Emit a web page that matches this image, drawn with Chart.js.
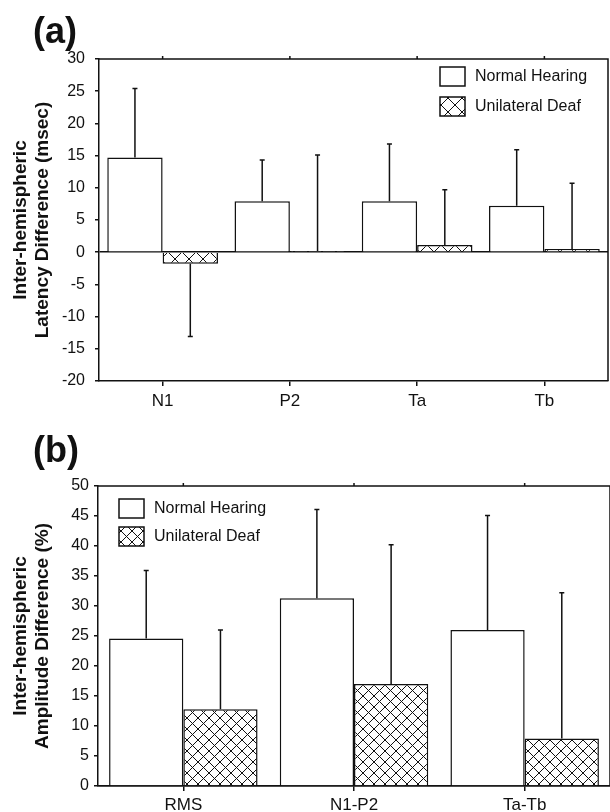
<!DOCTYPE html>
<html>
<head>
<meta charset="utf-8">
<script src="https://cdn.jsdelivr.net/npm/chart.js@4.4.1/dist/chart.umd.min.js"></script>
<style>
    body { margin: 0; background: #fff; width: 610px; height: 812px; position: relative; overflow: hidden; font-family: "Liberation Sans", Arial, sans-serif; }
    .panel { position: absolute; left: 0; width: 610px; }
    .tag { position: absolute; left: 33px; font-weight: bold; font-size: 36px; line-height: 1; color: #111; }
</style>
</head>
<body>
<div class="panel" style="top:0;height:410px"><canvas id="latencyChart"></canvas></div>
<div class="panel" style="top:410px;height:402px"><canvas id="amplitudeChart"></canvas></div>
<div class="tag" style="top:13px">(a)</div>
<div class="tag" style="top:432px">(b)</div>

<script>
// (a) latency difference, msec
const latencyLabels = ['N1', 'P2', 'Ta', 'Tb'];
const latencyNormal = [14.7, 7.9, 7.9, 7.2];
const latencyNormalSD = [10.7, 6.4, 8.9, 8.7];
const latencyDeaf = [-1.8, 0.2, 1.1, 0.5];
const latencyDeafSD = [11.3, 14.9, 8.6, 10.2];
const latencyTicks = [-20, -15, -10, -5, 0, 5, 10, 15, 20, 25, 30];

// (b) amplitude difference, %
const amplitudeLabels = ['RMS', 'N1-P2', 'Ta-Tb'];
const amplitudeNormal = [24.6, 31.3, 26.0];
const amplitudeNormalSD = [11.3, 14.8, 19.1];
const amplitudeDeaf = [12.8, 17.0, 7.9];
const amplitudeDeafSD = [13.2, 23.2, 24.3];
const amplitudeTicks = [0, 5, 10, 15, 20, 25, 30, 35, 40, 45, 50];

const FONT = '"Liberation Sans", Arial, Helvetica, sans-serif';
const INK = '#111';

function hatch(size) {
    const c = document.createElement('canvas');
    c.width = c.height = size;
    const g = c.getContext('2d');
    g.fillStyle = '#fff';
    g.fillRect(0, 0, size, size);
    g.strokeStyle = INK;
    g.lineWidth = 1;
    g.beginPath();
    g.moveTo(-1, -1); g.lineTo(size + 1, size + 1);
    g.moveTo(size + 1, -1); g.lineTo(-1, size + 1);
    g.stroke();
    return g.createPattern(c, 'repeat');
}

// one-sided error bars, pointing away from zero
const errorBars = {
    id: 'errorBars',
    afterDatasetsDraw(chart) {
        const ctx = chart.ctx;
        const y = chart.scales.y;
        chart.data.datasets.forEach((ds, i) => {
            chart.getDatasetMeta(i).data.forEach((bar, j) => {
                const v = ds.data[j];
                const end = y.getPixelForValue(v + (v < 0 ? -ds.sd[j] : ds.sd[j]));
                ctx.save();
                ctx.strokeStyle = INK;
                ctx.lineWidth = 1.5;
                ctx.beginPath();
                ctx.moveTo(bar.x, bar.y);
                ctx.lineTo(bar.x, end);
                ctx.moveTo(bar.x - 2.5, end);
                ctx.lineTo(bar.x + 2.5, end);
                ctx.stroke();
                ctx.restore();
            });
        });
    }
};

// top and right edges of the box, with small ticks on top
const frame = {
    id: 'frame',
    afterDraw(chart) {
        const { ctx, chartArea: a, scales: { x } } = chart;
        ctx.save();
        ctx.strokeStyle = INK;
        ctx.lineWidth = 1.5;
        ctx.beginPath();
        ctx.moveTo(a.left, a.top);
        ctx.lineTo(a.right, a.top);
        ctx.lineTo(a.right, a.bottom);
        x.ticks.forEach((t, i) => {
            const px = x.getPixelForTick(i);
            ctx.moveTo(px, a.top);
            ctx.lineTo(px, a.top - 3);
        });
        ctx.stroke();
        ctx.restore();
    }
};

// legend drawn inside the plot area
const boxLegend = {
    id: 'boxLegend',
    afterDraw(chart, args, opts) {
        const { ctx, chartArea: a } = chart;
        chart.data.datasets.forEach((ds, i) => {
            const bx = a.left + opts.x;
            const by = a.top + opts.y + i * opts.gap;
            ctx.save();
            ctx.fillStyle = ds.backgroundColor;
            ctx.fillRect(bx, by, 25, 19);
            ctx.strokeStyle = INK;
            ctx.lineWidth = 1.5;
            ctx.strokeRect(bx, by, 25, 19);
            ctx.fillStyle = INK;
            ctx.font = '16px ' + FONT;
            ctx.textBaseline = 'middle';
            ctx.fillText(ds.label, bx + 35, by + 10);
            ctx.restore();
        });
    }
};

function makeChart(id, p) {
    return new Chart(document.getElementById(id), {
        type: 'bar',
        data: {
            labels: p.labels,
            datasets: [
                { label: 'Normal Hearing', data: p.normal, sd: p.normalSD, backgroundColor: '#fff' },
                { label: 'Unilateral Deaf', data: p.deaf, sd: p.deafSD, backgroundColor: hatch(p.cell) }
            ]
        },
        plugins: [errorBars, frame, boxLegend],
        options: {
            responsive: true,
            maintainAspectRatio: false,
            animation: false,
            layout: { padding: { top: p.top, right: p.right, left: 0, bottom: 0 } },
            datasets: {
                bar: {
                    categoryPercentage: 0.87,
                    barPercentage: 1.0,
                    borderColor: INK,
                    borderWidth: 1.5
                }
            },
            plugins: {
                legend: { display: false },
                tooltip: { enabled: false },
                boxLegend: p.legend
            },
            scales: {
                x: {
                    offset: true,
                    afterFit(s) { s.height = p.xHeight; },
                    border: { color: INK, width: 1.5 },
                    grid: { offset: false, drawOnChartArea: false, tickLength: 5, tickColor: INK, lineWidth: 1.5 },
                    ticks: { color: INK, padding: p.xPad, font: { family: FONT, size: 17 } }
                },
                y: {
                    min: p.ticks[0],
                    max: p.ticks[p.ticks.length - 1],
                    afterFit(s) { s.width = p.yWidth; },
                    border: { color: INK, width: 1.5 },
                    grid: {
                        color: c => (c.tick && c.tick.value === 0 ? INK : 'rgba(0,0,0,0)'),
                        tickColor: INK,
                        tickLength: 4,
                        lineWidth: 1.5
                    },
                    ticks: {
                        stepSize: 2.5,
                        color: INK,
                        padding: p.yPad,
                        font: { family: FONT, size: 16 },
                        callback: v => (p.ticks.includes(v) ? v : '')
                    },
                    title: {
                        display: true,
                        text: p.title,
                        color: INK,
                        padding: { top: 10, bottom: 0 },
                        font: { family: FONT, size: 19, weight: 'bold', lineHeight: 1.15 }
                    }
                }
            }
        }
    });
}

makeChart('latencyChart', {
    labels: latencyLabels,
    normal: latencyNormal, normalSD: latencyNormalSD,
    deaf: latencyDeaf, deafSD: latencyDeafSD,
    ticks: latencyTicks,
    title: ['Inter-hemispheric', 'Latency Difference (msec)'],
    cell: 14, top: 59, right: 2, xHeight: 29, yWidth: 99, xPad: 5, yPad: 10,
    legend: { x: 341, y: 8, gap: 30 }
});

makeChart('amplitudeChart', {
    labels: amplitudeLabels,
    normal: amplitudeNormal, normalSD: amplitudeNormalSD,
    deaf: amplitudeDeaf, deafSD: amplitudeDeafSD,
    ticks: amplitudeTicks,
    title: ['Inter-hemispheric', 'Amplitude Difference (%)'],
    cell: 11, top: 76, right: 0, xHeight: 26, yWidth: 98, xPad: 4, yPad: 5,
    legend: { x: 21, y: 13, gap: 28 }
});
</script>
</body>
</html>
